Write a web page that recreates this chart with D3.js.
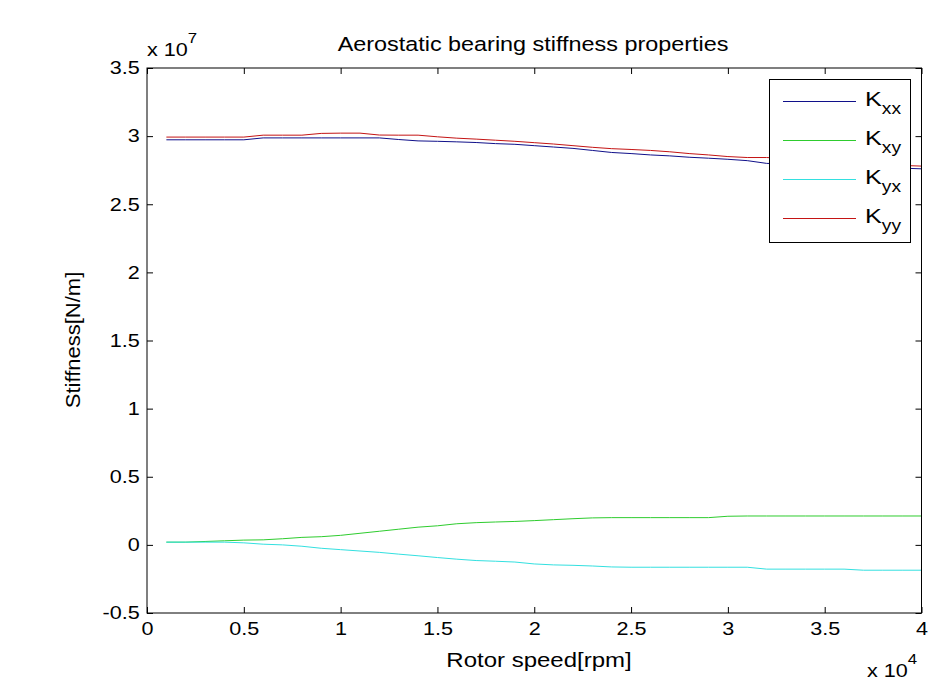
<!DOCTYPE html>
<html>
<head>
<meta charset="utf-8">
<script src="https://cdn.jsdelivr.net/npm/d3@7"></script>
<style>
    body { margin: 0; background: #fff; }
    svg { font-family: "Liberation Sans", Arial, sans-serif; }
</style>
</head>
<body>
<svg width="950" height="688"></svg>
<script>
// rotor speed [rpm]
const rpm = [1000, 2000, 3000, 4000, 5000, 6000, 7000, 8000, 9000, 10000,
    11000, 12000, 13000, 14000, 15000, 16000, 17000, 18000, 19000, 20000,
    21000, 22000, 23000, 24000, 25000, 26000, 27000, 28000, 29000, 30000,
    31000, 32000, 33000, 34000, 35000, 36000, 37000, 38000, 39000, 40000];
// stiffness, in units of 1e7 N/m
const kxx = [2.973, 2.973, 2.973, 2.973, 2.973, 2.987, 2.987, 2.987, 2.987, 2.987,
    2.987, 2.987, 2.975, 2.965, 2.962, 2.958, 2.953, 2.945, 2.940, 2.930,
    2.920, 2.910, 2.895, 2.880, 2.872, 2.862, 2.855, 2.845, 2.838, 2.830,
    2.820, 2.800, 2.795, 2.790, 2.785, 2.780, 2.775, 2.770, 2.765, 2.760];
const kxy = [0.020, 0.020, 0.025, 0.030, 0.035, 0.037, 0.045, 0.055, 0.060, 0.070,
    0.085, 0.100, 0.115, 0.130, 0.140, 0.155, 0.163, 0.168, 0.172, 0.178,
    0.185, 0.192, 0.198, 0.200, 0.200, 0.200, 0.200, 0.200, 0.200, 0.210,
    0.212, 0.212, 0.212, 0.212, 0.212, 0.212, 0.212, 0.212, 0.212, 0.212];
const kyx = [0.020, 0.020, 0.020, 0.020, 0.015, 0.005, 0.000, -0.010, -0.025, -0.035,
    -0.045, -0.055, -0.068, -0.080, -0.093, -0.105, -0.115, -0.120, -0.126, -0.140,
    -0.147, -0.150, -0.155, -0.162, -0.164, -0.164, -0.164, -0.164, -0.164, -0.164,
    -0.164, -0.178, -0.178, -0.178, -0.178, -0.178, -0.186, -0.186, -0.186, -0.186];
const kyy = [2.993, 2.993, 2.993, 2.993, 2.993, 3.007, 3.007, 3.007, 3.020, 3.022,
    3.022, 3.008, 3.007, 3.007, 2.995, 2.985, 2.978, 2.970, 2.962, 2.952,
    2.942, 2.930, 2.918, 2.908, 2.902, 2.895, 2.885, 2.872, 2.862, 2.850,
    2.843, 2.843, 2.835, 2.825, 2.820, 2.810, 2.800, 2.795, 2.785, 2.780];

const xTicks = [0, 5000, 10000, 15000, 20000, 25000, 30000, 35000, 40000];
const yTicks = [-0.5, 0, 0.5, 1, 1.5, 2, 2.5, 3, 3.5];
const seriesNames = ["xx", "xy", "yx", "yy"];
const seriesValues = [kxx, kxy, kyx, kyy];
const seriesColors = ["#10108a", "#2ecc2e", "#33e0e0", "#c41414"];

(() => {
    const pLeft = 147, pRight = 921.5, pTop = 68, pBottom = 613;
    const sx = 1.2; // the original figure was stretched sideways

    const svg = d3.select("svg");
    const x = d3.scaleLinear().domain([0, 40000]).range([pLeft, pRight]);
    const y = d3.scaleLinear().domain([-0.5, 3.5]).range([pBottom, pTop]);

    // plain text, stretched the way the picture is
    function label(g, px, py, str, size, anchor, rot) {
        return g.append("text")
            .attr("transform", `translate(${px},${py})` + (rot ? ` rotate(${rot}) scale(1.1,1)` : ` scale(${sx},1)`))
            .attr("text-anchor", anchor)
            .attr("font-size", size)
            .attr("fill", "#000")
            .text(str);
    }

    // lines
    const line = d3.line().x((d, i) => x(rpm[i])).y(d => y(d));
    seriesValues.forEach((vals, k) => {
        svg.append("path")
            .datum(vals)
            .attr("fill", "none")
            .attr("stroke", seriesColors[k])
            .attr("stroke-width", 1)
            .attr("d", line);
    });

    // axes, ticks pointing inward on all four sides
    const xAxis = svg.append("g")
        .attr("transform", `translate(0,${pBottom})`)
        .call(d3.axisBottom(x).tickValues(xTicks).tickSizeInner(-6).tickSizeOuter(0)
            .tickFormat(d => String(d / 1e4)));
    xAxis.selectAll("text").attr("font-size", 18).attr("font-family", null).attr("fill", "#000")
        .attr("transform", `scale(${sx},1)`).attr("y", 9).attr("dy", "0.71em");
    svg.append("g")
        .attr("transform", `translate(0,${pTop})`)
        .call(d3.axisTop(x).tickValues(xTicks).tickSizeInner(-6).tickSizeOuter(0).tickFormat(""));
    const yAxis = svg.append("g")
        .attr("transform", `translate(${pLeft},0)`)
        .call(d3.axisLeft(y).tickValues(yTicks).tickSizeInner(-6).tickSizeOuter(0)
            .tickFormat(d => String(d)));
    yAxis.selectAll("text").attr("font-size", 18).attr("font-family", null).attr("fill", "#000")
        .attr("transform", `scale(${sx},1)`).attr("x", -6);
    svg.append("g")
        .attr("transform", `translate(${pRight},0)`)
        .call(d3.axisRight(y).tickValues(yTicks).tickSizeInner(-6).tickSizeOuter(0).tickFormat(""));
    svg.selectAll(".domain").remove();
    svg.selectAll(".tick line").attr("stroke", "#000");

    svg.append("rect")
        .attr("x", pLeft).attr("y", pTop)
        .attr("width", pRight - pLeft).attr("height", pBottom - pTop)
        .attr("fill", "none").attr("stroke", "#000").attr("stroke-width", 1);

    // legend
    const lg = svg.append("g");
    lg.append("rect")
        .attr("x", 769.5).attr("y", 79.5).attr("width", 141).attr("height", 163)
        .attr("fill", "#fff").attr("stroke", "#000");
    seriesNames.forEach((name, k) => {
        const ly = 101.5 + k * 39;
        lg.append("line")
            .attr("x1", 783).attr("x2", 856).attr("y1", ly).attr("y2", ly)
            .attr("stroke", seriesColors[k]);
        const t = label(lg, 865, ly + 4.5, "K", 21, "start");
        t.append("tspan").attr("font-size", 16).attr("dy", 7.5).text(name);
    });

    // titles
    label(svg, 533, 51, "Aerostatic bearing stiffness properties", 19.5, "middle");
    label(svg, 539, 667, "Rotor speed[rpm]", 20, "middle");
    label(svg, 80, 340, "Stiffness[N/m]", 20, "middle", -90);

    // exponent labels
    const e7 = label(svg, 147, 56, "x 10", 18, "start");
    e7.append("tspan").attr("font-size", 14).attr("dy", -13).text("7");
    const e4 = label(svg, 867, 677, "x 10", 18, "start");
    e4.append("tspan").attr("font-size", 14).attr("dy", -13).text("4");
})();
</script>
</body>
</html>
